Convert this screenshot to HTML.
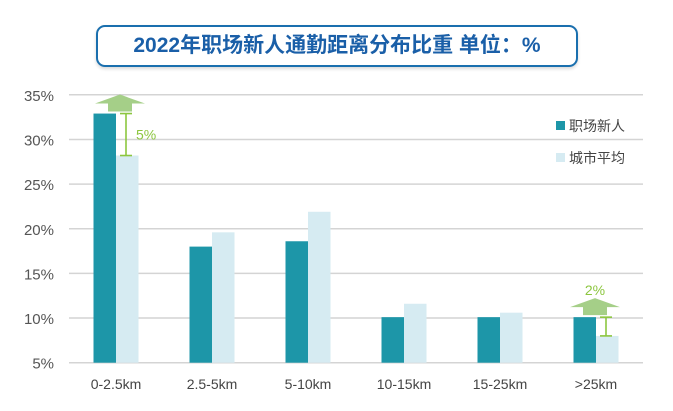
<!DOCTYPE html>
<html><head><meta charset="utf-8">
<style>
body{margin:0;background:#fff;width:673px;height:411px;overflow:hidden;font-family:"Liberation Sans","Noto Sans CJK SC",sans-serif;}
#title{position:absolute;left:96px;top:25px;width:482px;height:42px;border:2px solid #1a6fae;border-radius:9px;box-sizing:border-box;text-align:center;line-height:38px;font-size:21px;font-weight:bold;color:#1a5fa8;box-shadow:0 2px 3px rgba(0,0,0,0.15);}
</style></head><body>
<div id="title">2022年职场新人通勤距离分布比重 单位：%</div>
<svg id="chart" width="673" height="411" style="position:absolute;left:0;top:0;"></svg>
<script>
const categories=["0-2.5km","2.5-5km","5-10km","10-15km","15-25km",">25km"];
const newcomers=[32.9,18.0,18.6,10.1,10.1,10.1];
const cityAvg=[28.2,19.6,21.9,11.6,10.6,8.0];
const yTicks=[5,10,15,20,25,30,35];
const yTickLabels=["5%","10%","15%","20%","25%","30%","35%"];
const ns="http://www.w3.org/2000/svg";
const svg=document.getElementById('chart');
const y=v=>362.7-(v-5)*8.93;
const xc=i=>116+i*96;
const bw=22.5;
function mk(t,a,p){const e=document.createElementNS(ns,t);for(const k in a)e.setAttribute(k,a[k]);(p||svg).appendChild(e);return e;}
yTicks.forEach((t,i)=>{
 const g=mk('line',{x1:69,x2:643,y1:y(t),y2:y(t),stroke:'#d4d4d4','stroke-width':1.5});
 
 
 const l=mk('text',{x:54,y:y(t)+6,'text-anchor':'end','font-size':15,fill:'#555'});
 l.textContent=yTickLabels[i];
 
 
});
categories.forEach((c,i)=>{
 const b1=mk('rect',{x:xc(i)-bw,y:y(newcomers[i]),width:bw,height:y(5)-y(newcomers[i]),fill:'#1d96a8'});
 
 
 const b2=mk('rect',{x:xc(i),y:y(cityAvg[i]),width:bw,height:y(5)-y(cityAvg[i]),fill:'#d6ebf2'});
 
 
 const l=mk('text',{x:xc(i),y:389,'text-anchor':'middle','font-size':14,fill:'#444'});
 l.textContent=c;
 
 
});
function annot(i,label,labelAbove){
 const hi=Math.max(newcomers[i],cityAvg[i]),lo=Math.min(newcomers[i],cityAvg[i]);
 const x=xc(i)+10;
 const g=mk('g',{stroke:'#8cc63f','stroke-width':1.6});
 
 
 mk('line',{x1:x,x2:x,y1:y(hi),y2:y(lo)},g);
 mk('line',{x1:x-6,x2:x+6,y1:y(hi),y2:y(hi)},g);
 mk('line',{x1:x-6,x2:x+6,y1:y(lo),y2:y(lo)},g);
 const top=y(hi)-2;
 const ax=xc(i)+(labelAbove?-1:4);
 const a=mk('polygon',{points:`${ax-12},${top} ${ax+12},${top} ${ax+12},${top-8} ${ax+25},${top-8} ${ax},${top-17} ${ax-25},${top-8} ${ax-12},${top-8}`,fill:'#a5cf88'});
 
 
 const t=labelAbove?mk('text',{x:ax,y:top-20,'text-anchor':'middle','font-size':14,fill:'#8cc63f'}):mk('text',{x:x+10,y:(y(hi)+y(lo))/2+5,'font-size':14,fill:'#8cc63f'});
 t.textContent=label;
 
 
}
annot(0,"5%",false);
annot(5,"2%",true);
const leg=[["职场新人","#1d96a8",129],["城市平均","#d6ebf2",161]];
leg.forEach(l=>{
 const r=mk('rect',{x:556,y:l[2]-8,width:9,height:9,fill:l[1]});
 
 
 const t=mk('text',{x:569,y:l[2]+2,'font-size':14,fill:'#444'});
 t.textContent=l[0];
 
 
});
</script>
</body></html>
